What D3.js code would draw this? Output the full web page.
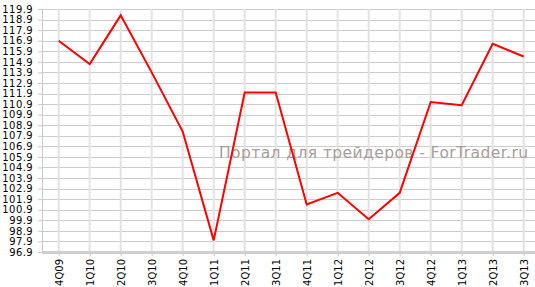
<!DOCTYPE html>
<html lang="ru">
<head>
<meta charset="UTF-8">
<title>Chart</title>
<script src="https://d3js.org/d3.v7.min.js"></script>
<style>
    body { margin: 0; padding: 0; background: #fff; }
    svg { display: block; }
    .tick text { font-family: "DejaVu Sans", Verdana, sans-serif; fill: #000; }
</style>
</head>
<body>
<svg width="535" height="287"></svg>
<script>
    const quarters = ["4Q09", "1Q10", "2Q10", "3Q10", "4Q10", "1Q11", "2Q11", "3Q11",
                      "4Q11", "1Q12", "2Q12", "3Q12", "4Q12", "1Q13", "2Q13", "3Q13"];
    const values = [116.9, 114.7, 119.3, 113.9, 108.3, 98.0, 112.0, 112.0,
                    101.4, 102.5, 100.0, 102.5, 111.1, 110.8, 116.6, 115.4];
    const yTicks = d3.range(0, 24).map(i => 96.9 + i);

    const svg = d3.select("svg");
    const plotLeft = 42, plotRight = 535, plotTop = 9, plotBottom = 252;

    const x = d3.scalePoint().domain(quarters).range([58.7, 523.7]);
    const y = d3.scaleLinear().domain([96.9, 119.9]).range([plotBottom, plotTop]);

    // grid
    svg.append("g").selectAll("line")
        .data(yTicks)
        .enter().append("line")
        .attr("x1", plotLeft).attr("x2", plotRight)
        .attr("y1", d => Math.round(y(d)) + 0.5).attr("y2", d => Math.round(y(d)) + 0.5)
        .style("stroke", "#cccccc");

    svg.append("g").selectAll("line")
        .data(quarters)
        .enter().append("line")
        .attr("x1", d => x(d)).attr("x2", d => x(d))
        .attr("y1", plotTop).attr("y2", plotBottom)
        .style("stroke", "#e2e2e2")
        .style("stroke-width", 2);

    // axes
    const yAxis = d3.axisLeft(y).tickValues(yTicks).tickSize(4).tickFormat(d3.format(".1f"));
    const gy = svg.append("g")
        .attr("transform", `translate(${plotLeft},0)`)
        .call(yAxis);
    gy.select(".domain").style("stroke", "#c8c8c8");
    gy.selectAll(".tick line").style("stroke", "#c8c8c8");
    gy.selectAll(".tick text")
        .style("font-size", "10px")
        .style("letter-spacing", "0.4px")
        .attr("dx", "-0.2em");

    const xAxis = d3.axisBottom(x).tickSize(4).tickSizeOuter(0);
    const gx = svg.append("g")
        .attr("transform", `translate(0,${plotBottom})`)
        .call(xAxis);
    gx.select(".domain").remove();
    gx.selectAll(".tick line").style("stroke", "#c8c8c8");
    gx.selectAll(".tick text")
        .style("font-size", "10px")
        .attr("text-anchor", "end")
        .attr("transform", "rotate(-90)")
        .attr("x", -7).attr("y", 0).attr("dy", "0.35em");

    svg.append("line")
        .attr("x1", plotLeft).attr("x2", plotRight)
        .attr("y1", plotBottom + 0.5).attr("y2", plotBottom + 0.5)
        .style("stroke", "#cfcfcf")
        .style("stroke-width", 3);

    // watermark
    svg.append("text")
        .attr("x", 219).attr("y", 158)
        .attr("textLength", 309)
        .attr("lengthAdjust", "spacing")
        .style("font-family", "DejaVu Sans, Verdana, sans-serif")
        .style("font-size", "15.5px")
        .style("fill", "#a89c9c")
        .text("Портал для трейдеров - ForTrader.ru");

    // line
    const line = d3.line()
        .x((d, i) => x(quarters[i]))
        .y(d => y(d));

    svg.append("path")
        .datum(values)
        .attr("d", line)
        .style("fill", "none")
        .style("stroke", "#ff0000")
        .style("stroke-width", 2);
</script>
</body>
</html>
